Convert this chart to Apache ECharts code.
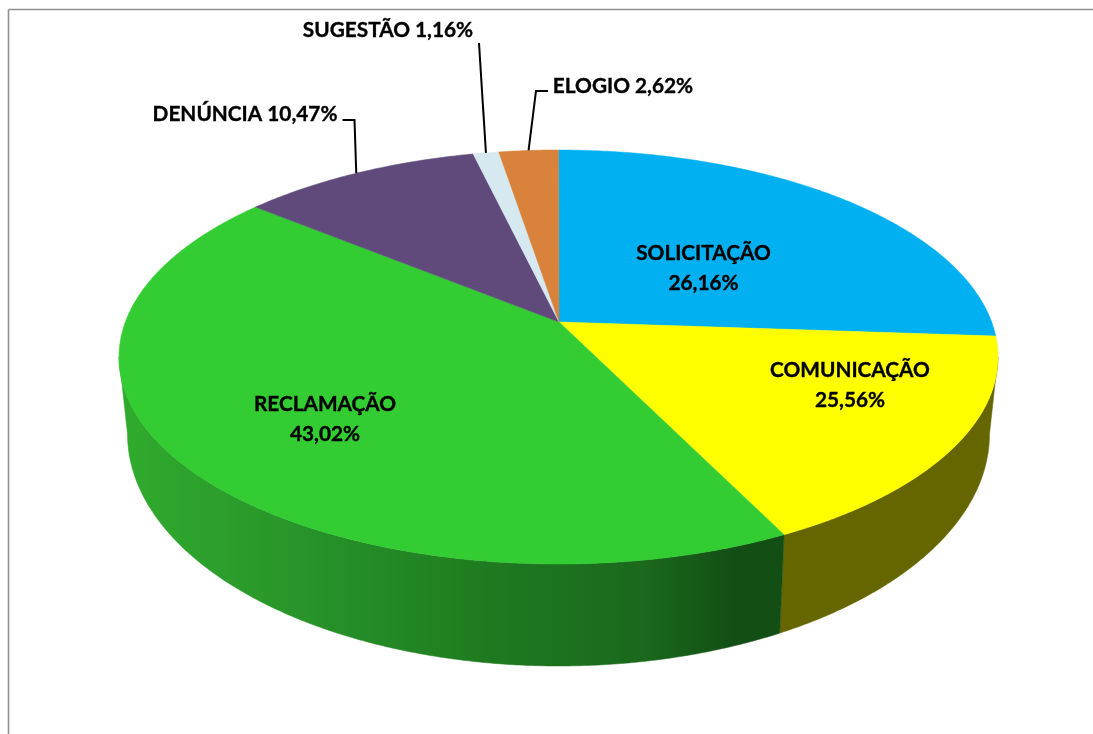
<!DOCTYPE html>
<html>
<head>
<meta charset="utf-8">
<style>html,body{margin:0;padding:0;background:#fff}#c{width:1093px;height:734px}</style>
<script src="https://cdn.jsdelivr.net/npm/echarts@6/dist/echarts.min.js"></script>
</head>
<body>
<div id="c"></div>
<script>
// Names and percentages printed on the reference
var categories = ['SOLICITAÇÃO', 'COMUNICAÇÃO', 'RECLAMAÇÃO', 'DENÚNCIA', 'SUGESTÃO', 'ELOGIO'];
var printedPercents = ['26,16%', '25,56%', '43,02%', '10,47%', '1,16%', '2,62%'];
// Share of the rim that each slice occupies in the picture (the printed labels do not match the drawn slices)
var sliceShares = [23.39, 18.03, 46.47, 9.0, 0.94, 2.17];

var topColors = ['#00B0F0', '#FFFF00', '#33CC33', '#604A7B', '#D7E9F0', '#D8823C'];
var sideColors = [null, '#666600', {
  type: 'linear', global: true, x: 130, y: 0, x2: 785, y2: 0,
  colorStops: [
    {offset: 0, color: '#30AA2D'}, {offset: 0.25, color: '#28952A'},
    {offset: 0.55, color: '#1E7A20'}, {offset: 0.78, color: '#1B691C'},
    {offset: 0.92, color: '#134F15'}, {offset: 1, color: '#134F15'}
  ]
}, null, null, null];

var topFace = {cx: 558.5, cy: 357, rx: 439.5, ry: 207, apexX: 559, apexY: 322};
var bottomFace = {cx: 558.5, cy: 434, rx: 431, ry: 232};
var font = {fontFamily: 'Lato', fontWeight: 'bold', fontSize: 20.8, fill: '#000', stroke: '#000', lineWidth: 0.35};
// Label placement: inside labels are two-line, outside labels have a leader
var labelLayout = [
  {x: 703.5, y: 268, lineHeight: 30},
  {x: 850, y: 385, lineHeight: 30},
  {x: 325, y: 419, lineHeight: 30},
  {x: 245, y: 114, elbow: [[342.5, 120], [354.5, 120]]},
  {x: 388, y: 30, elbow: [[479, 43]]},
  {x: 623, y: 86, elbow: [[548, 91], [536, 91]]}
];

var total = sliceShares.reduce(function (a, b) { return a + b; }, 0);
function startAngle(i) {
  var s = 0;
  for (var k = 0; k < i; k++) s += sliceShares[k];
  return s / total * 360;
}
function rim(f, deg) {
  var t = deg * Math.PI / 180;
  return [f.cx + f.rx * Math.sin(t), f.cy - f.ry * Math.cos(t)];
}
function arcPoints(f, a, b) {
  var pts = [], n = Math.max(2, Math.ceil(Math.abs(b - a) * 2));
  for (var j = 0; j <= n; j++) pts.push(rim(f, a + (b - a) * j / n));
  return pts;
}
var seriesData = sliceShares.map(function (v, i) { return [i, v]; });

var option = {
  animation: false,
  backgroundColor: '#fff',
  graphic: [
    {type: 'line', silent: true, shape: {x1: 8.5, y1: 9.5, x2: 8.5, y2: 734}, style: {stroke: '#8F8F8F', lineWidth: 1.6}},
    {type: 'line', silent: true, shape: {x1: 8.5, y1: 9.5, x2: 1093, y2: 9.5}, style: {stroke: '#8F8F8F', lineWidth: 1.6}}
  ],
  series: [
    {
      type: 'custom', coordinateSystem: 'none', silent: true, z: 1, data: seriesData,
      renderItem: function (params, api) {
        var i = api.value(0);
        if (!sideColors[i]) return {type: 'group', children: []};
        var a = Math.max(startAngle(i), 90), b = Math.min(startAngle(i) + api.value(1) / total * 360, 270);
        var pts = arcPoints(topFace, a, b).concat(arcPoints(bottomFace, b, a));
        return {type: 'polygon', shape: {points: pts},
          style: {fill: sideColors[i], stroke: sideColors[i], lineWidth: 0.5}};
      }
    },
    {
      type: 'custom', coordinateSystem: 'none', silent: true, z: 2, data: seriesData,
      renderItem: function (params, api) {
        var i = api.value(0);
        var a = startAngle(i), b = a + api.value(1) / total * 360;
        var pts = [[topFace.apexX, topFace.apexY]].concat(arcPoints(topFace, a, b));
        return {type: 'polygon', shape: {points: pts},
          style: {fill: topColors[i], stroke: topColors[i], lineWidth: 0.5}};
      }
    },
    {
      type: 'custom', coordinateSystem: 'none', silent: true, z: 3, data: seriesData,
      renderItem: function (params, api) {
        var i = api.value(0), l = labelLayout[i], kids = [];
        if (l.elbow) {
          var mid = startAngle(i) + api.value(1) / total * 180;
          kids.push({type: 'polyline', shape: {points: l.elbow.concat([rim(topFace, mid)])},
            style: {fill: null, stroke: '#000', lineWidth: 2}});
          kids.push({type: 'text', style: Object.assign({
            text: categories[i] + ' ' + printedPercents[i], x: l.x, y: l.y,
            align: 'center', verticalAlign: 'middle'}, font)});
        } else {
          kids.push({type: 'text', style: Object.assign({
            text: categories[i], x: l.x, y: l.y - l.lineHeight / 2,
            align: 'center', verticalAlign: 'middle'}, font)});
          kids.push({type: 'text', style: Object.assign({
            text: printedPercents[i], x: l.x, y: l.y + l.lineHeight / 2,
            align: 'center', verticalAlign: 'middle'}, font)});
        }
        return {type: 'group', children: kids};
      }
    }
  ]
};
echarts.init(document.getElementById('c'), null, {renderer: 'canvas'}).setOption(option);
</script>
</body>
</html>
